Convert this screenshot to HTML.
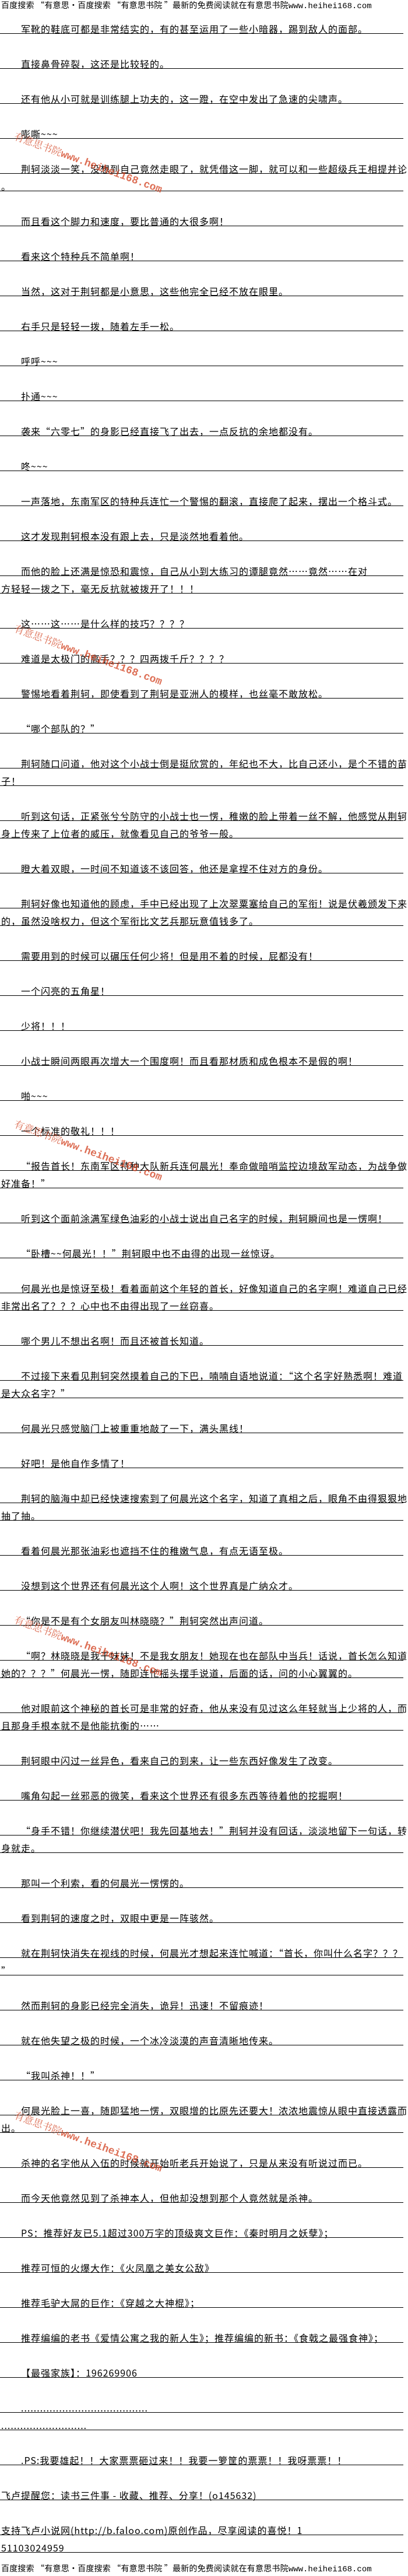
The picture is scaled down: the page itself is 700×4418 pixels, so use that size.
<!DOCTYPE html>
<html><head><meta charset="utf-8">
<style>
html,body{margin:0;padding:0;background:#fff;}
body{width:700px;height:4418px;position:relative;overflow:hidden;font-family:"Noto Sans CJK SC","Liberation Sans",sans-serif;color:#000;}
.hd{position:absolute;left:2px;font-size:14px;line-height:16px;white-space:nowrap;letter-spacing:0.2px;}
.hd span{font-family:"Liberation Mono",monospace;letter-spacing:0;}
#c{position:absolute;left:0;top:-2px;width:700px;}
.p{margin-top:30px;}
.l{box-sizing:border-box;height:30px;padding-top:13px;line-height:16px;font-size:16px;letter-spacing:1px;border-bottom:1px solid #000;width:692px;white-space:nowrap;padding-left:2px;}
.i{padding-left:36px;}
.wm{position:absolute;color:#d2401e;opacity:.75;font-size:17px;transform:rotate(20deg);transform-origin:0 0;white-space:nowrap;font-family:"Noto Serif CJK SC","Liberation Serif",serif;}
.wm span{font-family:"Liberation Mono",monospace;font-weight:bold;font-size:18px;}
</style></head><body>
<div class="hd" style="top:1px">百度搜索 “有意思·百度搜索 “有意思书院 ”最新的免费阅读就在有意思书院<span>www.heihei168.com</span></div>
<div id="c">
<div class="p"><div class="l i">军靴的鞋底可都是非常结实的，有的甚至运用了一些小暗器，踢到敌人的面部。</div></div>
<div class="p"><div class="l i">直接鼻骨碎裂，这还是比较轻的。</div></div>
<div class="p"><div class="l i">还有他从小可就是训练腿上功夫的，这一蹬，在空中发出了急速的尖啸声。</div></div>
<div class="p"><div class="l i">嘭嘶~~~</div></div>
<div class="p"><div class="l i">荆轲淡淡一笑，没想到自己竟然走眼了，就凭借这一脚，就可以和一些超级兵王相提并论</div><div class="l">。</div></div>
<div class="p"><div class="l i">而且看这个脚力和速度，要比普通的大很多啊！</div></div>
<div class="p"><div class="l i">看来这个特种兵不简单啊！</div></div>
<div class="p"><div class="l i">当然，这对于荆轲都是小意思，这些他完全已经不放在眼里。</div></div>
<div class="p"><div class="l i">右手只是轻轻一拨，随着左手一松。</div></div>
<div class="p"><div class="l i">呼呼~~~</div></div>
<div class="p"><div class="l i">扑通~~~</div></div>
<div class="p"><div class="l i">袭来“六零七”的身影已经直接飞了出去，一点反抗的余地都没有。</div></div>
<div class="p"><div class="l i">咚~~~</div></div>
<div class="p"><div class="l i">一声落地，东南军区的特种兵连忙一个警惕的翻滚，直接爬了起来，摆出一个格斗式。</div></div>
<div class="p"><div class="l i">这才发现荆轲根本没有跟上去，只是淡然地看着他。</div></div>
<div class="p"><div class="l i">而他的脸上还满是惊恐和震惊，自己从小到大练习的谭腿竟然……竟然……在对</div><div class="l">方轻轻一拨之下，毫无反抗就被拨开了！！！</div></div>
<div class="p"><div class="l i">这……这……是什么样的技巧？？？？</div></div>
<div class="p"><div class="l i">难道是太极门的高手？？？四两拨千斤？？？？</div></div>
<div class="p"><div class="l i">警惕地看着荆轲，即使看到了荆轲是亚洲人的模样，也丝毫不敢放松。</div></div>
<div class="p"><div class="l i">“哪个部队的？”</div></div>
<div class="p"><div class="l i">荆轲随口问道，他对这个小战士倒是挺欣赏的，年纪也不大，比自己还小，是个不错的苗</div><div class="l">子！</div></div>
<div class="p"><div class="l i">听到这句话，正紧张兮兮防守的小战士也一愣，稚嫩的脸上带着一丝不解，他感觉从荆轲</div><div class="l">身上传来了上位者的威压，就像看见自己的爷爷一般。</div></div>
<div class="p"><div class="l i">瞪大着双眼，一时间不知道该不该回答，他还是拿捏不住对方的身份。</div></div>
<div class="p"><div class="l i">荆轲好像也知道他的顾虑，手中已经出现了上次翠粟塞给自己的军衔！说是伏羲颁发下来</div><div class="l">的，虽然没啥权力，但这个军衔比文艺兵那玩意值钱多了。</div></div>
<div class="p"><div class="l i">需要用到的时候可以碾压任何少将！但是用不着的时候，屁都没有！</div></div>
<div class="p"><div class="l i">一个闪亮的五角星！</div></div>
<div class="p"><div class="l i">少将！！！</div></div>
<div class="p"><div class="l i">小战士瞬间两眼再次增大一个围度啊！而且看那材质和成色根本不是假的啊！</div></div>
<div class="p"><div class="l i">啪~~~</div></div>
<div class="p"><div class="l i">一个标准的敬礼！！！</div></div>
<div class="p"><div class="l i">“报告首长！东南军区特种大队新兵连何晨光！奉命做暗哨监控边境敌军动态，为战争做</div><div class="l">好准备！”</div></div>
<div class="p"><div class="l i">听到这个面前涂满军绿色油彩的小战士说出自己名字的时候，荆轲瞬间也是一愣啊！</div></div>
<div class="p"><div class="l i">“卧槽~~何晨光！！”荆轲眼中也不由得的出现一丝惊讶。</div></div>
<div class="p"><div class="l i">何晨光也是惊讶至极！看着面前这个年轻的首长，好像知道自己的名字啊！难道自己已经</div><div class="l">非常出名了？？？心中也不由得出现了一丝窃喜。</div></div>
<div class="p"><div class="l i">哪个男儿不想出名啊！而且还被首长知道。</div></div>
<div class="p"><div class="l i">不过接下来看见荆轲突然摸着自己的下巴，喃喃自语地说道：“这个名字好熟悉啊！难道</div><div class="l">是大众名字？”</div></div>
<div class="p"><div class="l i">何晨光只感觉脑门上被重重地敲了一下，满头黑线！</div></div>
<div class="p"><div class="l i">好吧！是他自作多情了！</div></div>
<div class="p"><div class="l i">荆轲的脑海中却已经快速搜索到了何晨光这个名字，知道了真相之后，眼角不由得狠狠地</div><div class="l">抽了抽。</div></div>
<div class="p"><div class="l i">看着何晨光那张油彩也遮挡不住的稚嫩气息，有点无语至极。</div></div>
<div class="p"><div class="l i">没想到这个世界还有何晨光这个人啊！这个世界真是广纳众才。</div></div>
<div class="p"><div class="l i">“你是不是有个女朋友叫林晓晓？”荆轲突然出声问道。</div></div>
<div class="p"><div class="l i">“啊？林晓晓是我干妹妹！不是我女朋友！她现在也在部队中当兵！话说，首长怎么知道</div><div class="l">她的？？？”何晨光一愣，随即连忙摇头摆手说道，后面的话，问的小心翼翼的。</div></div>
<div class="p"><div class="l i">他对眼前这个神秘的首长可是非常的好奇，他从来没有见过这么年轻就当上少将的人，而</div><div class="l">且那身手根本就不是他能抗衡的……</div></div>
<div class="p"><div class="l i">荆轲眼中闪过一丝异色，看来自己的到来，让一些东西好像发生了改变。</div></div>
<div class="p"><div class="l i">嘴角勾起一丝邪恶的微笑，看来这个世界还有很多东西等待着他的挖掘啊！</div></div>
<div class="p"><div class="l i">“身手不错！你继续潜伏吧！我先回基地去！”荆轲并没有回话，淡淡地留下一句话，转</div><div class="l">身就走。</div></div>
<div class="p"><div class="l i">那叫一个利索，看的何晨光一愣愣的。</div></div>
<div class="p"><div class="l i">看到荆轲的速度之时，双眼中更是一阵骇然。</div></div>
<div class="p"><div class="l i">就在荆轲快消失在视线的时候，何晨光才想起来连忙喊道：“首长，你叫什么名字？？？</div><div class="l">”</div></div>
<div class="p"><div class="l i">然而荆轲的身影已经完全消失，诡异！迅速！不留痕迹！</div></div>
<div class="p"><div class="l i">就在他失望之极的时候，一个冰冷淡漠的声音清晰地传来。</div></div>
<div class="p"><div class="l i">“我叫杀神！！”</div></div>
<div class="p"><div class="l i">何晨光脸上一喜，随即猛地一愣，双眼增的比原先还要大！浓浓地震惊从眼中直接透露而</div><div class="l">出。</div></div>
<div class="p"><div class="l i">杀神的名字他从入伍的时候就开始听老兵开始说了，只是从来没有听说过而已。</div></div>
<div class="p"><div class="l i">而今天他竟然见到了杀神本人，但他却没想到那个人竟然就是杀神。</div></div>
<div class="p"><div class="l i">PS：推荐好友已5.1超过300万字的顶级爽文巨作：《秦时明月之妖孽》；</div></div>
<div class="p"><div class="l i">推荐可恒的火爆大作：《火凤凰之美女公敌》</div></div>
<div class="p"><div class="l i">推荐毛驴大屌的巨作：《穿越之大神棍》；</div></div>
<div class="p"><div class="l i">推荐编编的老书《爱情公寓之我的新人生》；推荐编编的新书：《食戟之最强食神》；</div></div>
<div class="p"><div class="l i">【最强家族】：196269906</div></div>
<div class="p"><div class="l i">........................................</div><div class="l">...........................</div></div>
<div class="p"><div class="l i">.PS:我要雄起！！大家票票砸过来！！我要一箩筐的票票！！我呀票票！！</div></div>
<div class="p"><div class="l">飞卢提醒您：读书三件事 - 收藏、推荐、分享！(o145632)</div></div>
<div class="p"><div class="l">支持飞卢小说网(http://b.faloo.com)原创作品，尽享阅读的喜悦！1</div><div class="l">51103024959</div></div>
</div>
<div class="hd" style="top:4397px">百度搜索 “有意思·百度搜索 “有意思书院 ”最新的免费阅读就在有意思书院<span>www.heihei168.com</span></div>
<div class="wm" style="left:30px;top:220px">有意思书院<span>www.heihei168.com</span></div>
<div class="wm" style="left:30px;top:1064px">有意思书院<span>www.heihei168.com</span></div>
<div class="wm" style="left:30px;top:1914px">有意思书院<span>www.heihei168.com</span></div>
<div class="wm" style="left:30px;top:2764px">有意思书院<span>www.heihei168.com</span></div>
<div class="wm" style="left:30px;top:3614px">有意思书院<span>www.heihei168.com</span></div>
</body></html>
